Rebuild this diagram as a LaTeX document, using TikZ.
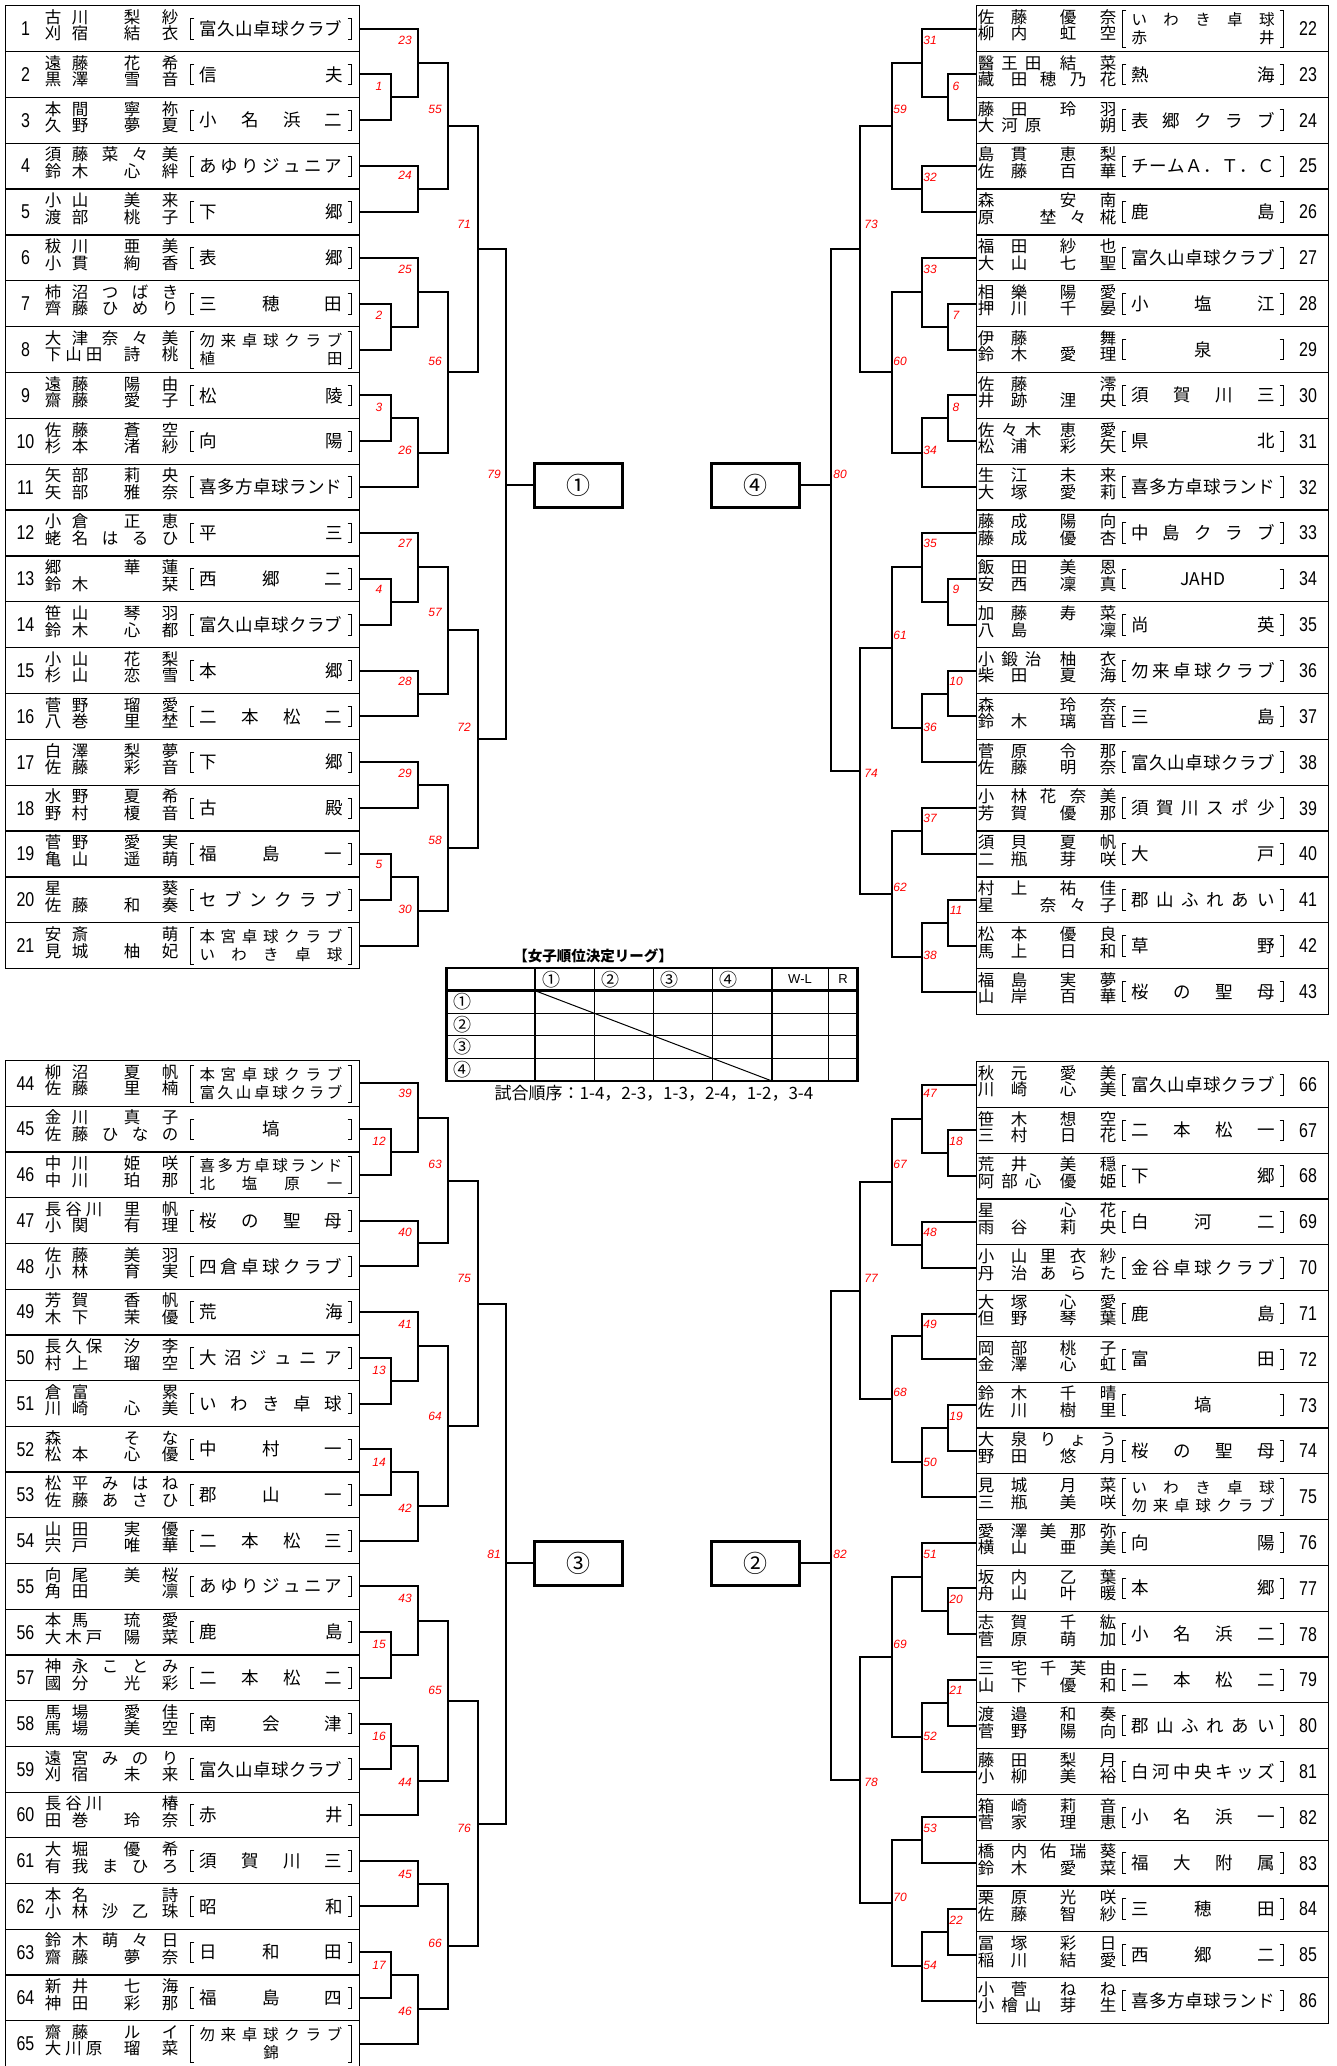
\documentclass[tikz,border=0pt]{standalone}
\usepackage{fontspec}
\usepackage{graphicx}
\setmainfont{Noto Sans CJK JP}
\newfontfamily\numfont{Liberation Sans}
\usetikzlibrary{calc}

\makeatletter
\newcount\chn
% count the characters of a name
\newcommand\countch[1]{\chn=0 \@tfor\ch@r:=#1\do{\advance\chn by 1 }}
% put \hfill between the characters
\newcommand\spreadch[1]{\def\sp@cer{}\@tfor\ch@r:=#1\do{\sp@cer\ch@r\def\sp@cer{\hfill}}}
\makeatother
\newcommand\surbox[1]{\countch{#1}\ifcase\chn\or#1\or\makebox[\swa][s]{\spreadch{#1}}\else\makebox[\swb][s]{\spreadch{#1}}\fi}
\newcommand\givbox[1]{\countch{#1}\ifcase\chn\or#1\or\makebox[\gwa][s]{\spreadch{#1}}\else\makebox[\gwb][s]{\spreadch{#1}}\fi}
\newcommand\nmline[2]{\makebox[\nmw][l]{\surbox{#1}\hfill\givbox{#2}}}
\newcommand\cl[1]{\vphantom{国}\countch{#1}\ifnum\chn=1 \makebox[\linewidth][c]{#1}\else\makebox[\linewidth][s]{\spreadch{#1}}\fi}
\newcommand\two[2]{\fontsize{15.5}{16}\selectfont\cl{#1}\\\cl{#2}}

% one entry, left half: number, name, two players, club
\newcommand\entL[7]{%
  \node[entL] (p#1) at (5,{\ybase+(#2-1)*\rowh}) {};
  \node[numtxt] (p#1n) at ([xshift=20.5pt]p#1.west) {\scalebox{0.8}[1]{#1}};
  \node[nmL] (p#1a) at ([shift={(39.75pt,9pt)}]p#1.west) {\nmline{#3}{#4}};
  \node[nmL] (p#1b) at ([shift={(39.75pt,-7.5pt)}]p#1.west) {\nmline{#5}{#6}};
  \node[club] (p#1c) at ([xshift=266pt]p#1.west) {#7};
  \draw[brk] ([xshift=4pt]p#1c.north west) -| (p#1c.south west) -- ++(4pt,0pt);
  \draw[brk] ([xshift=-4pt]p#1c.north east) -| (p#1c.south east) -- ++(-4pt,0pt);
}
% one entry, right half
\newcommand\entR[7]{%
  \node[entR] (p#1) at (976,{\ybase+(#2-1)*\rowh}) {};
  \node[numtxt] (p#1n) at ([xshift=332pt]p#1.west) {\scalebox{0.8}[1]{#1}};
  \node[nmR] (p#1a) at ([shift={(1.75pt,9pt)}]p#1.west) {\nmline{#3}{#4}};
  \node[nmR] (p#1b) at ([shift={(1.75pt,-7.5pt)}]p#1.west) {\nmline{#5}{#6}};
  \node[club] (p#1c) at ([xshift=227pt]p#1.west) {#7};
  \draw[brk] ([xshift=4pt]p#1c.north west) -| (p#1c.south west) -- ++(4pt,0pt);
  \draw[brk] ([xshift=-4pt]p#1c.north east) -| (p#1c.south east) -- ++(-4pt,0pt);
}
% one match: upper, lower, column of the vertical line, place of the number
\newcommand\match[5]{%
  \draw[bk] (#2) -- (#2 -| #4) -- (#3 -| #4) -- (#3);
  \coordinate (w#1) at ($(#2 -| #4)!0.5!(#3 -| #4)$);
  \node[mlab] (m#1) at (#5) {#1};
}

\begin{document}
\begin{tikzpicture}[
    x=1pt, y=-1pt,
    entL/.style={draw, line width=1.2pt, anchor=north west, inner sep=0pt, minimum width=354pt, minimum height=\rowh pt},
    entR/.style={entL, minimum width=352pt},
    numtxt/.style={inner sep=0pt, font=\numfont\fontsize{20}{20}\selectfont},
    nmL/.style={anchor=west, inner sep=0pt, text height=0.84em, text depth=0.08em, font=\fontsize{16.5}{16.5}\selectfont,
      execute at begin node={\def\nmw{133.5pt}\def\swa{43.5pt}\def\swb{57.5pt}\def\gwa{54.5pt}\def\gwb{76.5pt}}},
    nmR/.style={nmL, execute at begin node={\def\nmw{138.5pt}\def\swa{49.5pt}\def\swb{63.5pt}\def\gwa{56.5pt}\def\gwb{76.5pt}}},
    club/.style={text width=143pt, align=center, inner xsep=9pt, inner ysep=2pt, font=\fontsize{17.5}{18}\selectfont},
    brk/.style={line width=0.8pt},
    bk/.style={line width=2pt},
    mlab/.style={inner sep=0pt, text=red, font=\numfont\itshape\fontsize{12}{12}\selectfont},
    rnd/.style={draw, line width=3pt, minimum width=88pt, minimum height=44pt, inner sep=0pt, font=\fontsize{24}{24}\selectfont},
    tthick/.style={line width=2.5pt},
    tthin/.style={line width=1pt},
    ttxt/.style={inner sep=0pt, font=\fontsize{18}{18}\selectfont}
]
\useasboundingbox (0,0) rectangle (1337,2066);

% columns of the bracket
\coordinate (la) at (391,0);
\coordinate (lb) at (417.5,0);
\coordinate (lc) at (448,0);
\coordinate (ld) at (478,0);
\coordinate (le) at (506,0);
\coordinate (ra) at (948,0);
\coordinate (rb) at (922,0);
\coordinate (rc) at (892,0);
\coordinate (rd) at (860,0);
\coordinate (re) at (831,0);

% top left block
\def\ybase{5}\def\rowh{45.86}
\entL{1}{1}{古川}{梨紗}{刈宿}{結衣}{\cl{富久山卓球クラブ}}
\entL{2}{2}{遠藤}{花希}{黒澤}{雪音}{\cl{信夫}}
\entL{3}{3}{本間}{寧祢}{久野}{夢夏}{\cl{小名浜二}}
\entL{4}{4}{須藤}{菜々美}{鈴木}{心絆}{\cl{あゆりジュニア}}
\entL{5}{5}{小山}{美来}{渡部}{桃子}{\cl{下郷}}
\entL{6}{6}{秡川}{亜美}{小貫}{絢香}{\cl{表郷}}
\entL{7}{7}{柿沼}{つばき}{齊藤}{ひめり}{\cl{三穂田}}
\entL{8}{8}{大津}{奈々美}{下山田}{詩桃}{\two{勿来卓球クラブ}{植田}}
\entL{9}{9}{遠藤}{陽由}{齋藤}{愛子}{\cl{松陵}}
\entL{10}{10}{佐藤}{蒼空}{杉本}{渚紗}{\cl{向陽}}
\entL{11}{11}{矢部}{莉央}{矢部}{雅奈}{\cl{喜多方卓球ランド}}
\entL{12}{12}{小倉}{正恵}{蛯名}{はるひ}{\cl{平三}}
\entL{13}{13}{郷}{華蓮}{鈴木}{栞}{\cl{西郷二}}
\entL{14}{14}{笹山}{琴羽}{鈴木}{心都}{\cl{富久山卓球クラブ}}
\entL{15}{15}{小山}{花梨}{杉山}{恋雪}{\cl{本郷}}
\entL{16}{16}{菅野}{瑠愛}{八巻}{里埜}{\cl{二本松二}}
\entL{17}{17}{白澤}{梨夢}{佐藤}{彩音}{\cl{下郷}}
\entL{18}{18}{水野}{夏希}{野村}{榎音}{\cl{古殿}}
\entL{19}{19}{菅野}{愛実}{亀山}{遥萌}{\cl{福島一}}
\entL{20}{20}{星}{葵}{佐藤}{和奏}{\cl{セブンクラブ}}
\entL{21}{21}{安斎}{萌}{見城}{柚妃}{\two{本宮卓球クラブ}{いわき卓球}}

% top right block
\entR{22}{1}{佐藤}{優奈}{柳内}{虹空}{\two{いわき卓球}{赤井}}
\entR{23}{2}{醫王田}{結菜}{藏田}{穂乃花}{\cl{熱海}}
\entR{24}{3}{藤田}{玲羽}{大河原}{朔}{\cl{表郷クラブ}}
\entR{25}{4}{島貫}{恵梨}{佐藤}{百華}{\cl{チームＡ．Ｔ．Ｃ}}
\entR{26}{5}{森}{安南}{原}{埜々椛}{\cl{鹿島}}
\entR{27}{6}{福田}{紗也}{大山}{七聖}{\cl{富久山卓球クラブ}}
\entR{28}{7}{相樂}{陽愛}{押川}{千晏}{\cl{小塩江}}
\entR{29}{8}{伊藤}{舞}{鈴木}{愛理}{\cl{泉}}
\entR{30}{9}{佐藤}{澪}{井跡}{浬央}{\cl{須賀川三}}
\entR{31}{10}{佐々木}{恵愛}{松浦}{彩矢}{\cl{県北}}
\entR{32}{11}{生江}{未来}{大塚}{愛莉}{\cl{喜多方卓球ランド}}
\entR{33}{12}{藤成}{陽向}{藤成}{優杏}{\cl{中島クラブ}}
\entR{34}{13}{飯田}{美恩}{安西}{凜真}{\cl{{JAHD}}}
\entR{35}{14}{加藤}{寿菜}{八島}{凜}{\cl{尚英}}
\entR{36}{15}{小鍛治}{柚衣}{柴田}{夏海}{\cl{勿来卓球クラブ}}
\entR{37}{16}{森}{玲奈}{鈴木}{璃音}{\cl{三島}}
\entR{38}{17}{菅原}{令那}{佐藤}{明奈}{\cl{富久山卓球クラブ}}
\entR{39}{18}{小林}{花奈美}{芳賀}{優那}{\cl{須賀川スポ少}}
\entR{40}{19}{須貝}{夏帆}{二瓶}{芽咲}{\cl{大戸}}
\entR{41}{20}{村上}{祐佳}{星}{奈々子}{\cl{郡山ふれあい}}
\entR{42}{21}{松本}{優良}{馬上}{日和}{\cl{草野}}
\entR{43}{22}{福島}{実夢}{山岸}{百華}{\cl{桜の聖母}}

% bottom left block
\def\ybase{1060}\def\rowh{45.72}
\entL{44}{1}{柳沼}{夏帆}{佐藤}{里楠}{\two{本宮卓球クラブ}{富久山卓球クラブ}}
\entL{45}{2}{金川}{真子}{佐藤}{ひなの}{\cl{塙}}
\entL{46}{3}{中川}{姫咲}{中川}{珀那}{\two{喜多方卓球ランド}{北塩原一}}
\entL{47}{4}{長谷川}{里帆}{小関}{有理}{\cl{桜の聖母}}
\entL{48}{5}{佐藤}{美羽}{小林}{育実}{\cl{四倉卓球クラブ}}
\entL{49}{6}{芳賀}{香帆}{木下}{茉優}{\cl{荒海}}
\entL{50}{7}{長久保}{汐李}{村上}{瑠空}{\cl{大沼ジュニア}}
\entL{51}{8}{倉富}{累}{川崎}{心美}{\cl{いわき卓球}}
\entL{52}{9}{森}{そな}{松本}{心優}{\cl{中村一}}
\entL{53}{10}{松平}{みはね}{佐藤}{あさひ}{\cl{郡山一}}
\entL{54}{11}{山田}{実優}{宍戸}{唯華}{\cl{二本松三}}
\entL{55}{12}{向尾}{美桜}{角田}{凛}{\cl{あゆりジュニア}}
\entL{56}{13}{本馬}{琉愛}{大木戸}{陽菜}{\cl{鹿島}}
\entL{57}{14}{神永}{ことみ}{國分}{光彩}{\cl{二本松二}}
\entL{58}{15}{馬場}{愛佳}{馬場}{美空}{\cl{南会津}}
\entL{59}{16}{遠宮}{みのり}{刈宿}{未来}{\cl{富久山卓球クラブ}}
\entL{60}{17}{長谷川}{椿}{田巻}{玲奈}{\cl{赤井}}
\entL{61}{18}{大堀}{優希}{有我}{まひろ}{\cl{須賀川三}}
\entL{62}{19}{本名}{詩}{小林}{沙乙珠}{\cl{昭和}}
\entL{63}{20}{鈴木}{萌々日}{齋藤}{夢奈}{\cl{日和田}}
\entL{64}{21}{新井}{七海}{神田}{彩那}{\cl{福島四}}
\entL{65}{22}{齋藤}{ルイ}{大川原}{瑠菜}{\two{勿来卓球クラブ}{錦}}

% bottom right block
\def\ybase{1061}\def\rowh{45.8}
\entR{66}{1}{秋元}{愛美}{川崎}{心美}{\cl{富久山卓球クラブ}}
\entR{67}{2}{笹木}{想空}{三村}{日花}{\cl{二本松一}}
\entR{68}{3}{荒井}{美穏}{阿部心}{優姫}{\cl{下郷}}
\entR{69}{4}{星}{心花}{雨谷}{莉央}{\cl{白河二}}
\entR{70}{5}{小山}{里衣紗}{丹治}{あらた}{\cl{金谷卓球クラブ}}
\entR{71}{6}{大塚}{心愛}{但野}{琴葉}{\cl{鹿島}}
\entR{72}{7}{岡部}{桃子}{金澤}{心虹}{\cl{富田}}
\entR{73}{8}{鈴木}{千晴}{佐川}{樹里}{\cl{塙}}
\entR{74}{9}{大泉}{りょう}{野田}{悠月}{\cl{桜の聖母}}
\entR{75}{10}{見城}{月菜}{三瓶}{美咲}{\two{いわき卓球}{勿来卓球クラブ}}
\entR{76}{11}{愛澤}{美那弥}{横山}{亜美}{\cl{向陽}}
\entR{77}{12}{坂内}{乙葉}{舟山}{叶暖}{\cl{本郷}}
\entR{78}{13}{志賀}{千紘}{菅原}{萌加}{\cl{小名浜二}}
\entR{79}{14}{三宅}{千芙由}{山下}{優和}{\cl{二本松二}}
\entR{80}{15}{渡邉}{和奏}{菅野}{陽向}{\cl{郡山ふれあい}}
\entR{81}{16}{藤田}{梨月}{小柳}{美裕}{\cl{白河中央キッズ}}
\entR{82}{17}{箱崎}{莉音}{菅家}{理恵}{\cl{小名浜一}}
\entR{83}{18}{橋内}{佑瑞葵}{鈴木}{愛菜}{\cl{福大附属}}
\entR{84}{19}{栗原}{光咲}{佐藤}{智紗}{\cl{三穂田}}
\entR{85}{20}{冨塚}{彩日}{稲川}{結愛}{\cl{西郷二}}
\entR{86}{21}{小菅}{ねね}{小檜山}{芽生}{\cl{喜多方卓球ランド}}

% final boxes
\node[rnd] (r1) at (578,485) {①};
\node[rnd] (r4) at (755,485) {④};
\node[rnd] (r3) at (578,1563) {③};
\node[rnd] (r2) at (755,1563) {②};

% top left bracket
\match{1}{p2.east}{p3.east}{la}{379,86}
\match{23}{p1.east}{w1}{lb}{405,40}
\match{24}{p4.east}{p5.east}{lb}{405,175}
\match{55}{w23}{w24}{lc}{435,109}
\match{2}{p7.east}{p8.east}{la}{379,315}
\match{25}{p6.east}{w2}{lb}{405,269}
\match{3}{p9.east}{p10.east}{la}{379,407}
\match{26}{w3}{p11.east}{lb}{405,450}
\match{56}{w25}{w26}{lc}{435,361}
\match{71}{w55}{w56}{ld}{464,224}
\match{4}{p13.east}{p14.east}{la}{379,589}
\match{27}{p12.east}{w4}{lb}{405,543}
\match{28}{p15.east}{p16.east}{lb}{405,681}
\match{57}{w27}{w28}{lc}{435,612}
\match{29}{p17.east}{p18.east}{lb}{405,773}
\match{5}{p19.east}{p20.east}{la}{379,864}
\match{30}{w5}{p21.east}{lb}{405,909}
\match{58}{w29}{w30}{lc}{435,840}
\match{72}{w57}{w58}{ld}{464,727}
\match{79}{w71}{w72}{le}{494,474}
\draw[bk] (r1.west -| le) -- (r1.west);

% top right bracket
\match{6}{p23.west}{p24.west}{ra}{956,86}
\match{31}{p22.west}{w6}{rb}{930,40}
\match{32}{p25.west}{p26.west}{rb}{930,177}
\match{59}{w31}{w32}{rc}{900,109}
\match{7}{p28.west}{p29.west}{ra}{956,315}
\match{33}{p27.west}{w7}{rb}{930,269}
\match{8}{p30.west}{p31.west}{ra}{956,407}
\match{34}{w8}{p32.west}{rb}{930,450}
\match{60}{w33}{w34}{rc}{900,361}
\match{73}{w59}{w60}{rd}{871,224}
\match{9}{p34.west}{p35.west}{ra}{956,589}
\match{35}{p33.west}{w9}{rb}{930,543}
\match{10}{p36.west}{p37.west}{ra}{956,681}
\match{36}{w10}{p38.west}{rb}{930,727}
\match{61}{w35}{w36}{rc}{900,635}
\match{37}{p39.west}{p40.west}{rb}{930,818}
\match{11}{p41.west}{p42.west}{ra}{956,910}
\match{38}{w11}{p43.west}{rb}{930,955}
\match{62}{w37}{w38}{rc}{900,887}
\match{74}{w61}{w62}{rd}{871,773}
\match{80}{w73}{w74}{re}{840,474}
\draw[bk] (r4.east -| re) -- (r4.east);

% bottom left bracket
\match{12}{p45.east}{p46.east}{la}{379,1141}
\match{39}{p44.east}{w12}{lb}{405,1093}
\match{40}{p47.east}{p48.east}{lb}{405,1232}
\match{63}{w39}{w40}{lc}{435,1164}
\match{13}{p50.east}{p51.east}{la}{379,1370}
\match{41}{p49.east}{w13}{lb}{405,1324}
\match{14}{p52.east}{p53.east}{la}{379,1462}
\match{42}{w14}{p54.east}{lb}{405,1508}
\match{64}{w41}{w42}{lc}{435,1416}
\match{75}{w63}{w64}{ld}{464,1278}
\match{15}{p56.east}{p57.east}{la}{379,1644}
\match{43}{p55.east}{w15}{lb}{405,1598}
\match{16}{p58.east}{p59.east}{la}{379,1736}
\match{44}{w16}{p60.east}{lb}{405,1782}
\match{65}{w43}{w44}{lc}{435,1690}
\match{45}{p61.east}{p62.east}{lb}{405,1874}
\match{17}{p63.east}{p64.east}{la}{379,1965}
\match{46}{w17}{p65.east}{lb}{405,2011}
\match{66}{w45}{w46}{lc}{435,1943}
\match{76}{w65}{w66}{ld}{464,1828}
\match{81}{w75}{w76}{le}{494,1554}
\draw[bk] (r3.west -| le) -- (r3.west);

% bottom right bracket
\match{18}{p67.west}{p68.west}{ra}{956,1141}
\match{47}{p66.west}{w18}{rb}{930,1093}
\match{48}{p69.west}{p70.west}{rb}{930,1232}
\match{67}{w47}{w48}{rc}{900,1164}
\match{49}{p71.west}{p72.west}{rb}{930,1324}
\match{19}{p73.west}{p74.west}{ra}{956,1416}
\match{50}{w19}{p75.west}{rb}{930,1462}
\match{68}{w49}{w50}{rc}{900,1392}
\match{77}{w67}{w68}{rd}{871,1278}
\match{20}{p77.west}{p78.west}{ra}{956,1599}
\match{51}{p76.west}{w20}{rb}{930,1554}
\match{21}{p79.west}{p80.west}{ra}{956,1690}
\match{52}{w21}{p81.west}{rb}{930,1736}
\match{69}{w51}{w52}{rc}{900,1644}
\match{53}{p82.west}{p83.west}{rb}{930,1828}
\match{22}{p84.west}{p85.west}{ra}{956,1920}
\match{54}{w22}{p86.west}{rb}{930,1965}
\match{70}{w53}{w54}{rc}{900,1897}
\match{78}{w69}{w70}{rd}{871,1782}
\match{82}{w77}{w78}{re}{840,1554}
\draw[bk] (r2.east -| re) -- (r2.east);

% league table
\node[ttxt, font=\bfseries\fontsize{14.5}{14.5}\selectfont] (ttl) at (593,956) {【女子順位決定リーグ】};
\foreach \x in {594,653,712.6,828.5} \draw[tthin] (\x,968) -- (\x,1081);
\foreach \y in {1013,1035.5,1058.5} \draw[tthin] (446.5,\y) -- (857.5,\y);
\draw[tthick] (534.8,968) -- (534.8,1081);
\draw[tthick] (772,968) -- (772,1081);
\draw[tthick] (446.5,990.6) -- (857.5,990.6);
\draw[tthick] (446.5,968) rectangle (857.5,1081);
\draw[tthin] (534.8,990.6) -- (772,1081);
\node[ttxt] (h1) at (551,979.3) {①};
\node[ttxt] (h2) at (610,979.3) {②};
\node[ttxt] (h3) at (669,979.3) {③};
\node[ttxt] (h4) at (728,979.3) {④};
\node[ttxt, font=\numfont\fontsize{13}{13}\selectfont] (hwl) at (800,979.3) {W-L};
\node[ttxt, font=\numfont\fontsize{13}{13}\selectfont] (hr) at (843,979.3) {R};
\node[ttxt] (t1) at (462,1001.8) {①};
\node[ttxt] (t2) at (462,1024.3) {②};
\node[ttxt] (t3) at (462,1047) {③};
\node[ttxt] (t4) at (462,1069.8) {④};
\node[ttxt, font=\fontsize{17}{17}\selectfont] (ord) at (654,1093) {試合順序：1-4，2-3，1-3，2-4，1-2，3-4};
\end{tikzpicture}
\end{document}
